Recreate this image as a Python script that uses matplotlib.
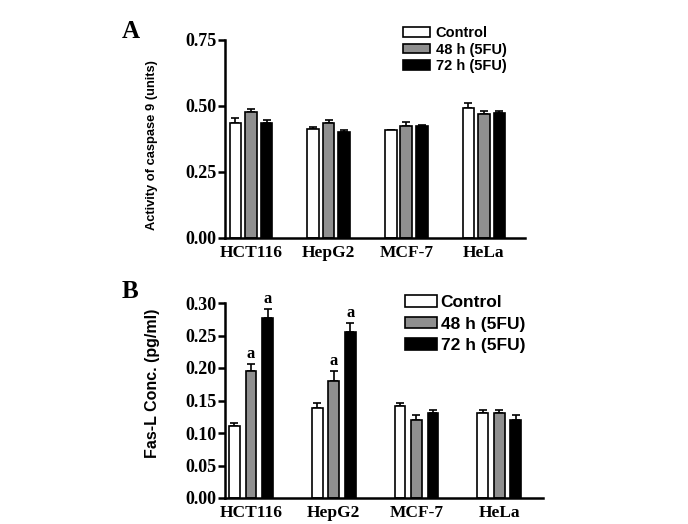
import numpy as np
import matplotlib
matplotlib.use("Agg")
import matplotlib.pyplot as plt

cells = ["HCT116", "HepG2", "MCF-7", "HeLa"]
series = ["Control", "48 h (5FU)", "72 h (5FU)"]
colors = ["white", "#8f8f8f", "black"]

# panel A: caspase 9 activity (mean, sem)
casp_ctrl = [0.437, 0.411, 0.408, 0.494]
casp_48 = [0.477, 0.437, 0.424, 0.468]
casp_72 = [0.437, 0.401, 0.424, 0.473]
casp_ctrl_err = [0.019, 0.009, 0.002, 0.016]
casp_48_err = [0.010, 0.010, 0.016, 0.012]
casp_72_err = [0.010, 0.007, 0.004, 0.009]

# panel B: Fas-L concentration (mean, sem)
fasl_ctrl = [0.111, 0.138, 0.141, 0.131]
fasl_48 = [0.196, 0.180, 0.120, 0.131]
fasl_72 = [0.277, 0.256, 0.131, 0.120]
fasl_ctrl_err = [0.005, 0.008, 0.005, 0.005]
fasl_48_err = [0.010, 0.016, 0.007, 0.005]
fasl_72_err = [0.014, 0.013, 0.005, 0.007]
fasl_sig = [[False, True, True], [False, True, True],
            [False, False, False], [False, False, False]]

serif = "Liberation Serif"
sans = "Liberation Sans"

fig = plt.figure(figsize=(6.88, 5.24), dpi=100)
W, H = 688, 524


def px_axes(left, right, top, bottom):
    return fig.add_axes([left / W, 1 - bottom / H, (right - left) / W, (bottom - top) / H])


def draw_panel(ax, vals, errs, width, ymax, yticks, ylabel, ylsize, xlim):
    x = np.arange(len(cells))
    for i, (v, e) in enumerate(zip(vals, errs)):
        ax.bar(x + (i - 1) * 0.2, v, width, color=colors[i], edgecolor="black",
               linewidth=1.2, label=series[i], zorder=2)
        ax.errorbar(x + (i - 1) * 0.2, v, yerr=[np.zeros(len(v)), e], fmt="none",
                    ecolor="black", elinewidth=1.2, capsize=3, capthick=1.2, zorder=1)
    ax.set_xlim(*xlim)
    ax.set_ylim(0, ymax)
    ax.set_yticks(yticks)
    ax.set_yticklabels([f"{t:.2f}" for t in yticks], fontfamily=serif,
                       fontweight="bold", fontsize=13)
    ax.set_xticks(x)
    ax.set_xticklabels(cells, fontfamily=serif, fontweight="bold", fontsize=12.5)
    ax.tick_params(axis="x", length=0, pad=5)
    ax.tick_params(axis="y", length=5, width=1.8, pad=1)
    for s in ["top", "right"]:
        ax.spines[s].set_visible(False)
    for s in ["left", "bottom"]:
        ax.spines[s].set_linewidth(1.8)
    ax.set_ylabel(ylabel, fontfamily=sans, fontweight="bold", fontsize=ylsize)


# panel A
axA = px_axes(225, 525, 40, 238)
draw_panel(axA, [casp_ctrl, casp_48, casp_72],
           [casp_ctrl_err, casp_48_err, casp_72_err], 0.15, 0.75,
           [0.0, 0.25, 0.5, 0.75], "Activity of caspase 9 (units)", 9.3, (-0.335, 3.53))
axA.yaxis.set_label_coords(-0.222, 0.47)
axA.legend(loc="upper left", bbox_to_anchor=(403 / W, 1 - 26 / H),
           bbox_transform=fig.transFigure, frameon=False, borderpad=0,
           borderaxespad=0, handlelength=1.85, handleheight=0.65, handletextpad=0.4,
           labelspacing=0.18, prop={"family": sans, "weight": "bold", "size": 10.5})
fig.text(122 / W, 1 - 32 / H, "A", fontfamily=serif, fontweight="bold", fontsize=18,
         va="center")

# panel B
axB = px_axes(225, 543, 303, 498)
draw_panel(axB, [fasl_ctrl, fasl_48, fasl_72],
           [fasl_ctrl_err, fasl_48_err, fasl_72_err], 0.13, 0.30,
           [0.0, 0.05, 0.10, 0.15, 0.20, 0.25, 0.30], "Fas-L Conc. (pg/ml)", 11.5,
           (-0.314, 3.53))
axB.yaxis.set_label_coords(-0.205, 0.59)
series_B = [fasl_ctrl, fasl_48, fasl_72]
errs_B = [fasl_ctrl_err, fasl_48_err, fasl_72_err]
for j in range(len(cells)):
    for i in range(3):
        if fasl_sig[j][i]:
            axB.text(j + (i - 1) * 0.2, series_B[i][j] + errs_B[i][j] + 0.003, "a",
                     ha="center", va="bottom", fontfamily=serif, fontweight="bold",
                     fontsize=12)
axB.legend(loc="upper left", bbox_to_anchor=(405 / W, 1 - 295 / H),
           bbox_transform=fig.transFigure, frameon=False, borderpad=0,
           borderaxespad=0, handlelength=1.85, handleheight=0.65, handletextpad=0.2,
           labelspacing=0.38, prop={"family": sans, "weight": "bold", "size": 12.5})
fig.text(122 / W, 1 - 292 / H, "B", fontfamily=serif, fontweight="bold", fontsize=18,
         va="center")

fig.savefig("out.png", dpi=100)
